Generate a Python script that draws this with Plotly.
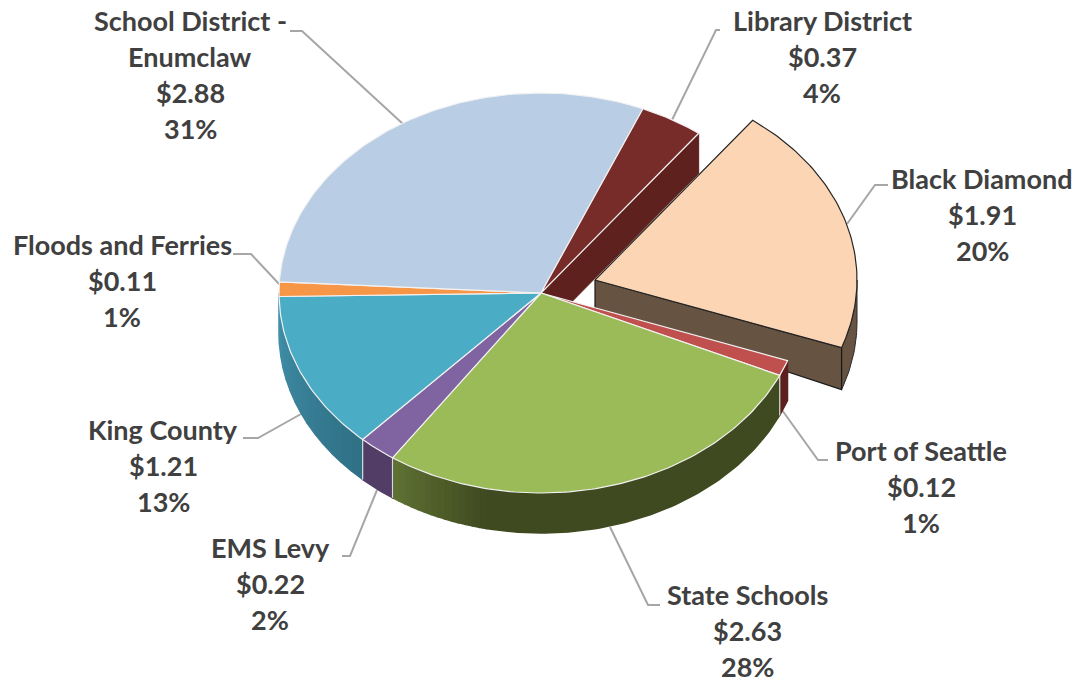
import math
import plotly.graph_objects as go

categories = ["Black Diamond", "Port of Seattle", "State Schools", "EMS Levy",
              "King County", "Floods and Ferries", "School District - Enumclaw", "Library District"]
label_lines = [["Black Diamond"], ["Port of Seattle"], ["State Schools"], ["EMS Levy"],
               ["King County"], ["Floods and Ferries"], ["School District -", "Enumclaw"], ["Library District"]]
values = [1.91, 0.12, 2.63, 0.22, 1.21, 0.11, 2.88, 0.37]
percents = ["20%", "1%", "28%", "2%", "13%", "1%", "31%", "4%"]
top_colors = ["#fcd5b5", "#c0504d", "#9bbb59", "#8064a2", "#4bacc6", "#f79646", "#b9cde5", "#772c2a"]
wall_colors = ["#665342", "#5e1f1f", "#3f4a20", "#523d66", "#2f6f85", "#a8642a", "#7a8ca0", "#5e211e"]

# layout geometry (pixels)
CX, CY, RX, RY, DEPTH = 541, 293, 262, 200, 40
START = 37.0
EXPLODE = (54, -13)
APEX_DEPTH_EXPLODED = 28
RIM_DEPTH_EXPLODED = 42
label_x = [982, 921, 747, 270, 163, 122, 190, 822]
label_y = [178, 450, 594, 547, 429, 244, 20, 20]
line_pitch = 36
leaders = [
    [(888, 185), (875, 185), (847, 224)],
    [(828, 460), (818, 460), (782, 410)],
    [(660, 605), (648, 605), (610, 527)],
    [(342, 556), (350, 556), (377, 490)],
    [(243, 438), (258, 438), (301, 414)],
    [(233, 254), (251, 254), (280, 285)],
    [(290, 31), (302, 31), (403, 124)],
    [(720, 30), (716, 30), (672, 120)],
]
LEADER = "#a6a6a6"
TEXT = "#404040"

total = sum(values)
bounds = [START]
for v in values:
    bounds.append(bounds[-1] + 360 * v / total)


def pt(theta, ox=0, oy=0):
    a = math.radians(theta)
    return CX + ox + RX * math.sin(a), CY + oy - RY * math.cos(a)


def arc(a0, a1, ox=0, oy=0):
    n = max(2, int(abs(a1 - a0)) + 2)
    return [pt(a0 + (a1 - a0) * i / (n - 1), ox, oy) for i in range(n)]


fig = go.Figure()


def poly(points, fill, line=None, width=1.0):
    xs = [p[0] for p in points] + [points[0][0]]
    ys = [p[1] for p in points] + [points[0][1]]
    fig.add_trace(go.Scatter(x=xs, y=ys, mode="lines", fill="toself", fillcolor=fill,
                             line=dict(color=line or fill, width=width), hoverinfo="skip"))


def mix(c0, c1, t):
    a = [int(c0[i:i + 2], 16) for i in (1, 3, 5)]
    b = [int(c1[i:i + 2], 16) for i in (1, 3, 5)]
    return "#%02x%02x%02x" % tuple(round(a[i] + (b[i] - a[i]) * t) for i in range(3))


def wall(a0, a1, c0, c1=None, steps=1):
    c1 = c1 or c0
    for k in range(steps):
        s0 = a0 + (a1 - a0) * k / steps
        s1 = a0 + (a1 - a0) * (k + 1) / steps
        top = arc(s0, s1)
        bottom = [(x, y + DEPTH) for x, y in reversed(top)]
        poly(top + bottom, mix(c0, c1, (k + 0.5) / steps), width=1.4)


# leader lines sit behind the pie
for seg in leaders:
    fig.add_trace(go.Scatter(x=[p[0] for p in seg], y=[p[1] for p in seg], mode="lines",
                             line=dict(color=LEADER, width=2), hoverinfo="skip"))

# Library cut face (behind the exploded slice)
lib_end = bounds[8] % 360
rim = pt(lib_end)
poly([(CX, CY), rim, (rim[0], rim[1] + DEPTH), (CX, CY + DEPTH)], wall_colors[7])

# Exploded Black Diamond slice
ox, oy = EXPLODE
ax, ay = CX + ox, CY + oy
r0, r1 = pt(bounds[0], ox, oy), pt(bounds[1], ox, oy)
rim_pts = arc(90, bounds[1], ox, oy)
poly(rim_pts + [(x, y + RIM_DEPTH_EXPLODED) for x, y in reversed(rim_pts)], wall_colors[0], "#2b2b2b", 1)
poly([(ax, ay), r1, (r1[0], r1[1] + RIM_DEPTH_EXPLODED), (ax, ay + APEX_DEPTH_EXPLODED)],
     wall_colors[0], "#1a1a1a", 1.2)
poly([(ax, ay)] + arc(bounds[0], bounds[1], ox, oy), top_colors[0], "#262626", 1.2)

# Side walls of the main pie, right to left
wall(bounds[1], bounds[2], wall_colors[1])
wall(bounds[2], 192, wall_colors[2])
wall(192, bounds[3], wall_colors[2], "#5f7233", steps=14)
wall(bounds[3], bounds[4], wall_colors[3])
wall(bounds[4], 270, "#2f7085", "#4290aa", steps=14)

# Separators on the walls
for i in (2, 3, 4):
    x, y = pt(bounds[i])
    fig.add_trace(go.Scatter(x=[x, x], y=[y, y + DEPTH], mode="lines",
                             line=dict(color="#d9d9d9", width=1.2), hoverinfo="skip"))

# Top faces of the main pie
for i in range(1, 8):
    poly([(CX, CY)] + arc(bounds[i], bounds[i + 1]), top_colors[i], "#f2f2f2", 1.2)

# Labels: one real text per line
annotations = []
for i, lines in enumerate(label_lines):
    rows = lines + ["$%.2f" % values[i], percents[i]]
    for j, row in enumerate(rows):
        annotations.append(dict(x=label_x[i], y=label_y[i] + j * line_pitch, text="<b>%s</b>" % row,
                                xref="x", yref="y", showarrow=False, xanchor="center", yanchor="middle",
                                font=dict(family="Lato", size=27, color=TEXT)))

fig.update_layout(
    width=1078, height=682, margin=dict(l=0, r=0, t=0, b=0),
    paper_bgcolor="white", plot_bgcolor="white", showlegend=False,
    xaxis=dict(range=[0, 1078], visible=False, fixedrange=True),
    yaxis=dict(range=[682, 0], visible=False, fixedrange=True),
    annotations=annotations,
)
fig.write_html("out.html", config=dict(displayModeBar=False),
               post_script="document.body.style.margin='0';document.documentElement.style.overflow='hidden';")
